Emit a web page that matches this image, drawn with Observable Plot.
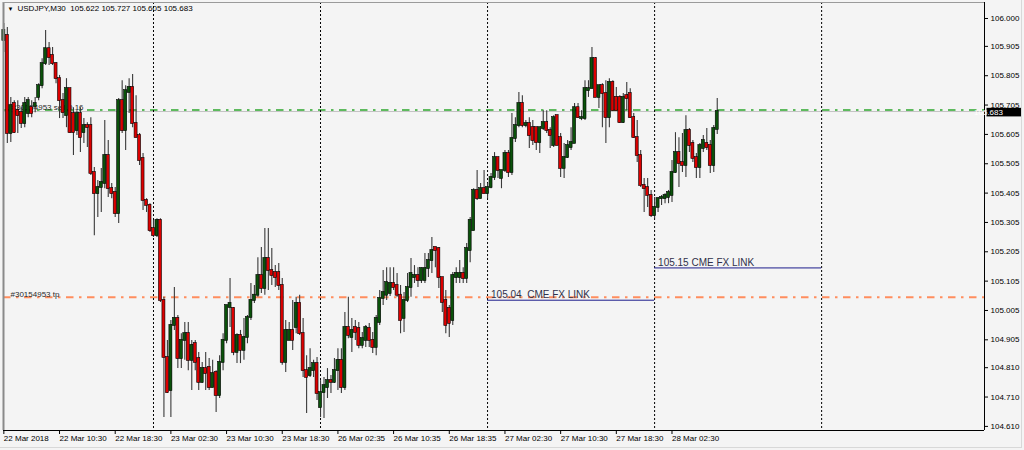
<!DOCTYPE html>
<html><head><meta charset="utf-8">
<script src="https://cdn.jsdelivr.net/npm/d3@7"></script>
<script src="https://cdn.jsdelivr.net/npm/@observablehq/plot@0.6"></script>
<style>
html,body{margin:0;padding:0;background:#f4f4f4;}
#chart{position:relative;width:1024px;height:450px;overflow:hidden;}
#chart .win{position:absolute;left:0;top:0;width:1021px;height:447px;border-right:1px solid #d8d8d8;border-bottom:1px solid #d8d8d8;pointer-events:none;}
svg{display:block;}
</style></head><body><div id="chart"><div class="win"></div></div>
<script>
// ---- data (USDJPY M30, bar index 0 = 22 Mar 02:30) ----
const open = [105.925,105.942,105.608,105.710,105.686,105.679,105.642,105.676,105.696,105.700,105.731,105.771,105.846,105.897,105.874,105.846,105.795,105.720,105.669,105.761,105.676,105.618,105.676,105.611,105.635,105.635,105.475,105.403,105.424,105.438,105.533,105.420,105.407,105.335,105.720,105.618,105.748,105.765,105.642,105.601,105.523,105.380,105.363,105.284,105.260,105.312,105.039,104.845,104.732,104.954,104.978,104.841,104.903,104.926,104.835,104.892,104.841,104.760,104.807,104.811,104.742,104.794,104.715,104.828,104.903,105.015,105.012,104.862,104.920,104.869,104.913,104.981,105.039,105.057,105.124,105.080,105.182,105.141,105.134,105.134,105.090,104.828,104.903,104.937,104.947,105.029,104.926,104.800,104.783,104.800,104.824,104.674,104.725,104.742,104.766,104.760,104.800,104.835,104.742,104.947,104.913,104.947,104.944,104.886,104.903,104.944,104.903,104.879,104.964,105.046,105.057,105.063,105.097,105.090,105.057,104.978,105.039,105.083,105.117,105.124,105.107,105.107,105.148,105.175,105.220,105.216,105.117,105.039,105.012,104.971,105.117,105.117,105.131,105.114,105.209,105.277,105.414,105.386,105.420,105.403,105.424,105.458,105.526,105.455,105.482,105.540,105.475,105.591,105.635,105.710,105.635,105.642,105.628,105.628,105.577,105.625,105.645,105.618,105.567,105.669,105.594,105.489,105.526,105.560,105.574,105.696,105.659,105.659,105.754,105.761,105.863,105.731,105.771,105.744,105.662,105.782,105.731,105.731,105.645,105.737,105.744,105.662,105.594,105.533,105.431,105.424,105.397,105.328,105.356,105.386,105.386,105.390,105.397,105.475,105.543,105.509,105.499,105.618,105.574,105.526,105.492,105.557,105.574,105.567,105.499,105.622];
const high = [105.983,105.969,105.731,105.720,105.720,105.696,105.731,105.731,105.720,105.731,105.778,105.863,105.959,105.918,105.901,105.850,105.806,105.744,105.795,105.761,105.696,105.686,105.696,105.659,105.645,105.662,105.492,105.448,105.489,105.652,105.584,105.438,105.424,105.727,105.788,105.771,105.795,105.809,105.737,105.608,105.540,105.386,105.369,105.312,105.318,105.318,105.050,104.903,104.971,105.083,104.988,104.926,104.964,104.964,104.903,104.903,104.862,104.828,104.862,104.841,104.835,104.800,104.851,104.926,105.022,105.114,105.015,104.926,104.937,104.978,104.988,105.097,105.090,105.185,105.220,105.284,105.284,105.216,105.158,105.165,105.114,104.971,104.964,105.039,105.050,105.057,104.978,104.851,104.875,104.835,104.845,104.766,104.777,104.807,104.783,104.841,104.875,104.875,104.998,105.050,104.978,104.971,104.964,104.930,104.954,104.961,104.930,104.988,105.073,105.141,105.151,105.151,105.151,105.131,105.090,105.066,105.131,105.182,105.158,105.151,105.151,105.199,105.199,105.254,105.220,105.220,105.117,105.073,105.022,105.134,105.151,105.175,105.151,105.233,105.322,105.420,105.482,105.438,105.482,105.438,105.472,105.543,105.526,105.482,105.550,105.550,105.676,105.662,105.748,105.737,105.652,105.662,105.652,105.628,105.628,105.686,105.686,105.628,105.669,105.669,105.608,105.574,105.584,105.628,105.710,105.710,105.686,105.788,105.788,105.901,105.867,105.771,105.778,105.788,105.795,105.788,105.765,105.737,105.744,105.782,105.761,105.676,105.652,105.550,105.455,105.455,105.414,105.390,105.390,105.397,105.403,105.414,105.516,105.611,105.594,105.608,105.669,105.625,105.584,105.540,105.574,105.601,105.625,105.584,105.635,105.727];
const low = [105.884,105.574,105.577,105.608,105.608,105.625,105.628,105.662,105.662,105.679,105.720,105.761,105.840,105.840,105.840,105.778,105.659,105.659,105.628,105.608,105.533,105.601,105.543,105.574,105.560,105.465,105.260,105.322,105.339,105.420,105.390,105.386,105.322,105.301,105.608,105.550,105.676,105.628,105.594,105.499,105.346,105.339,105.271,105.254,105.254,105.032,104.640,104.722,104.640,104.937,104.807,104.807,104.835,104.800,104.732,104.800,104.732,104.756,104.732,104.732,104.742,104.657,104.705,104.800,104.892,104.947,104.851,104.824,104.824,104.835,104.892,104.971,105.029,105.050,105.063,105.057,105.073,105.090,105.083,105.073,104.818,104.794,104.903,104.869,104.926,104.920,104.777,104.654,104.777,104.777,104.698,104.640,104.637,104.705,104.722,104.756,104.732,104.722,104.732,104.909,104.862,104.903,104.875,104.875,104.879,104.879,104.858,104.851,104.954,105.022,105.039,105.053,105.073,105.050,104.926,104.930,105.032,105.050,105.097,105.083,105.097,105.097,105.117,105.131,105.151,105.080,104.998,104.926,104.913,104.954,105.097,105.097,105.097,105.097,105.168,105.277,105.380,105.386,105.403,105.386,105.420,105.448,105.455,105.420,105.475,105.458,105.465,105.577,105.628,105.628,105.628,105.557,105.567,105.550,105.540,105.618,105.608,105.557,105.560,105.567,105.458,105.455,105.523,105.550,105.574,105.659,105.652,105.652,105.731,105.761,105.731,105.693,105.628,105.574,105.628,105.686,105.686,105.642,105.642,105.686,105.659,105.591,105.509,105.424,105.339,105.356,105.322,105.318,105.339,105.363,105.369,105.369,105.373,105.472,105.424,105.475,105.458,105.543,105.509,105.455,105.455,105.543,105.550,105.472,105.475,105.605];
const close = [105.959,105.608,105.703,105.611,105.669,105.642,105.710,105.720,105.676,105.710,105.771,105.846,105.897,105.867,105.846,105.795,105.720,105.679,105.761,105.611,105.611,105.676,105.594,105.635,105.628,105.472,105.403,105.424,105.441,105.533,105.420,105.403,105.335,105.720,105.618,105.754,105.765,105.642,105.594,105.516,105.380,105.363,105.277,105.260,105.312,105.039,104.845,104.725,104.954,104.978,104.841,104.903,104.926,104.835,104.886,104.828,104.760,104.807,104.790,104.742,104.790,104.715,104.828,104.903,105.022,105.029,104.862,104.920,104.869,104.913,104.981,105.039,105.057,105.124,105.080,105.182,105.141,105.124,105.117,105.090,104.828,104.937,104.937,104.903,105.029,104.926,104.800,104.777,104.807,104.824,104.722,104.725,104.749,104.766,104.760,104.800,104.835,104.742,104.947,104.920,104.937,104.930,104.886,104.909,104.947,104.903,104.879,104.978,105.046,105.066,105.100,105.097,105.083,105.057,104.971,105.039,105.083,105.131,105.124,105.107,105.148,105.148,105.175,105.209,105.209,105.117,105.032,104.954,104.961,105.124,105.131,105.131,105.114,105.216,105.312,105.414,105.386,105.420,105.403,105.424,105.458,105.526,105.482,105.482,105.540,105.475,105.591,105.635,105.710,105.635,105.642,105.601,105.584,105.577,105.628,105.645,105.618,105.601,105.662,105.567,105.489,105.526,105.567,105.577,105.696,105.662,105.662,105.761,105.761,105.863,105.731,105.771,105.744,105.662,105.782,105.686,105.686,105.645,105.731,105.727,105.662,105.594,105.533,105.431,105.420,105.397,105.328,105.356,105.386,105.390,105.397,105.407,105.475,105.543,105.506,105.499,105.618,105.567,105.523,105.492,105.567,105.584,105.560,105.499,105.625,105.683];

const tickIndex = [0,16,32,48,64,80,96,112,128,144,160,176,192];
const tickLabels = ["22 Mar 2018","22 Mar 10:30","22 Mar 18:30","23 Mar 02:30","23 Mar 10:30","23 Mar 18:30","26 Mar 02:35","26 Mar 10:35","26 Mar 18:35","27 Mar 02:30","27 Mar 10:30","27 Mar 18:30","28 Mar 02:30"];
const priceTicks = [106.000,105.905,105.805,105.705,105.605,105.505,105.405,105.305,105.205,105.105,105.005,104.905,104.810,104.710,104.610];
const daySeparators = [43,91,139,187,235];

const symbolName = "USDJPY,M30";
const orderLabel = "#30154953 sell 0.16";
const orderPrice = 105.688;
const tpLabel = "#30154953 tp";
const tpPrice = 105.050;
const bidPrice = 105.683;
const levelStart = [139,187];
const levelEnd = [187,235];
const levelPrice = [105.04,105.15];
const levelLabel = ["105.04\u00a0\u00a0CME FX LINK","105.15 CME FX LINK"];

// ---- build ----
const candles = open.map((o,i)=>({i,o,h:high[i],l:low[i],c:close[i]}));
const up = candles.filter(d=>d.c>=d.o), down = candles.filter(d=>d.c<d.o);
const levels = levelPrice.map((p,k)=>({start:levelStart[k],end:levelEnd[k],price:p,label:levelLabel[k]}));
const last = candles[candles.length-1];
const f3 = d3.format(".3f");
const title = `${symbolName}\u00a0\u00a0${f3(last.o)} ${f3(last.h)} ${f3(last.l)} ${f3(last.c)}`;
const labelMap = new Map(tickIndex.map((t,k)=>[t,tickLabels[k]]));

const xDomain = [-0.1, 281.8];
const yDomain = [104.596, 106.0545];
const FONT = "Liberation Sans, Arial, sans-serif";
const GREEN = "#0a520a", RED = "#dc0000";
const bodyX1 = d=>d.i-0.43, bodyX2 = d=>d.i+0.43;
const DASHDOT = "7.5,5.5,2.5,5.5";

const plot = Plot.plot({
  width:1024, height:450,
  marginLeft:3, marginRight:40, marginTop:2, marginBottom:20,
  style:{background:"#f4f4f4", fontFamily:FONT, fontSize:"8px", color:"#000"},
  x:{type:"linear", domain:xDomain},
  y:{domain:yDomain},
  marks:[
    Plot.ruleY([bidPrice],{stroke:"#c4c4c4", strokeWidth:1}),
    Plot.ruleY([orderPrice],{stroke:"#5eba5e", strokeWidth:2, strokeDasharray:DASHDOT}),
    Plot.ruleY([tpPrice],{stroke:"#ff8d5e", strokeWidth:2, strokeDasharray:DASHDOT}),
    Plot.ruleX(daySeparators,{stroke:"#000", strokeWidth:1, strokeDasharray:"2,2"}),
    Plot.ruleY(levels,{x1:"start", x2:"end", y:"price", stroke:"#1c1c8c", strokeWidth:1}),
    Plot.text(levels,{x:"start", y:"price", text:"label", textAnchor:"start", lineAnchor:"bottom", dx:3.5, dy:-2, fontSize:10, fill:"#30304a", fontFamily:FONT}),
    Plot.text([{label:orderLabel, price:orderPrice}],{frameAnchor:"left", y:"price", text:"label", textAnchor:"start", lineAnchor:"bottom", dx:8, dy:0, fill:"#2a2a2a", fontSize:8}),
    Plot.text([{label:tpLabel, price:tpPrice}],{frameAnchor:"left", y:"price", text:"label", textAnchor:"start", lineAnchor:"bottom", dx:7, dy:0, fill:"#2a2a2a", fontSize:8}),
    Plot.ruleX(candles,{x:"i", y1:"l", y2:"h", stroke:"#3a3a3a", strokeWidth:1.1}),
    Plot.rect(up,{x1:bodyX1, x2:bodyX2, y1:"o", y2:"c", fill:GREEN, stroke:"#000", strokeWidth:0.6, insetTop:-0.5, insetBottom:-0.5}),
    Plot.rect(down,{x1:bodyX1, x2:bodyX2, y1:"o", y2:"c", fill:RED, stroke:"#000", strokeWidth:0.6, insetTop:-0.5, insetBottom:-0.5}),
    // frame
    Plot.ruleX([xDomain[0]],{stroke:"#8a8a8a", strokeWidth:2}),
    Plot.ruleY([yDomain[1]],{stroke:"#9a9a9a", strokeWidth:1}),
    Plot.ruleX([xDomain[1]],{stroke:"#000", strokeWidth:1}),
    Plot.ruleY([yDomain[0]],{stroke:"#000", strokeWidth:1}),
    Plot.axisY(priceTicks,{anchor:"right", tickFormat:f3, tickSize:3, tickPadding:3, fontSize:8, label:null}),
    Plot.axisX(tickIndex,{anchor:"bottom", tickFormat:d=>labelMap.get(d), tickSize:4, tickPadding:1, textAnchor:"start", dx:0, fontSize:8, label:null}),
    Plot.text(["\u25bc"],{frameAnchor:"top-left", dx:4, dy:4, fontSize:6, textAnchor:"start", lineAnchor:"top"}),
    Plot.text([title],{frameAnchor:"top-left", dx:14, dy:2.5, fontSize:8, textAnchor:"start", lineAnchor:"top", fill:"#000"})
  ]
});

// bid price box on the right scale (drawn over the axis, as in the terminal)
const ys = plot.scale("y"), xs = plot.scale("x");
const by = ys.apply(bidPrice), bx = xs.apply(xDomain[1]);
const g = d3.select(plot).append("g").attr("font-family", FONT).attr("font-size", 8);
g.append("rect").attr("x", bx+2.5).attr("y", by-3.2).attr("width", 35).attr("height", 8.6).attr("fill", "#000");
g.append("text").attr("x", bx+4.5).attr("y", by+3.8).attr("fill", "#fff").text(f3(bidPrice));

document.getElementById("chart").appendChild(plot);
</script></body></html>
